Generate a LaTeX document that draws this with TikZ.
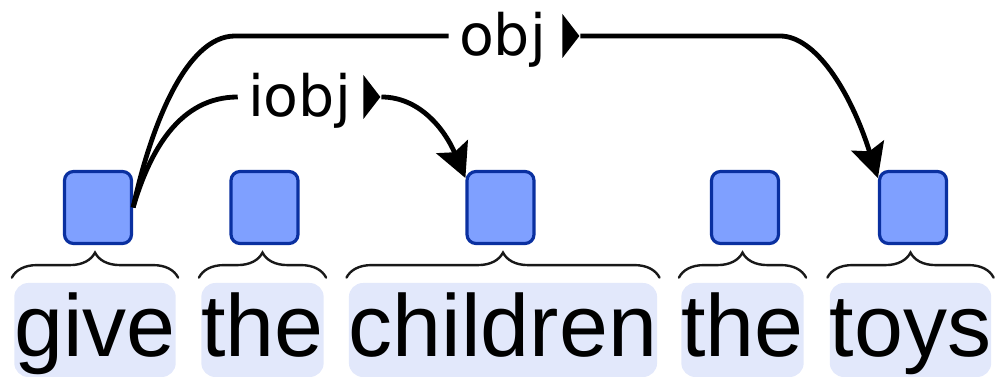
\documentclass[tikz,border=0pt]{standalone}
\usepackage{fontspec}
\setmainfont{Liberation Sans}
\newfontfamily\lblfont{DejaVu Sans}
\usetikzlibrary{arrows.meta,shapes.geometric,decorations.pathreplacing}
\definecolor{tokfill}{HTML}{7FA0FF}
\definecolor{tokline}{HTML}{0A30A0}
\definecolor{wordbg}{HTML}{E2E8FB}
\begin{document}
\begin{tikzpicture}[x=0.5pt,y=-0.5pt,
  tok/.style={rectangle, rounded corners=4.5pt, fill=tokfill, draw=tokline, line width=1.6pt, minimum width=33.5pt, minimum height=36pt, inner sep=0pt},
  word/.style={fill=wordbg, rounded corners=7pt, inner xsep=0pt, inner ysep=0pt, text height=37pt, text depth=10pt, font=\fontsize{44}{44}\selectfont, anchor=base},
  lbl/.style={font=\lblfont\fontsize{28.5}{28.5}\selectfont, text height=20pt, text depth=0pt, inner xsep=5pt, inner ysep=0pt},
  dirmark/.style={isosceles triangle, isosceles triangle stretches, fill=black, minimum height=8.5pt, minimum width=22pt, inner sep=0pt, anchor=west},
  dep/.style={line width=2.4pt},
  wordbrace/.style={decorate, decoration={brace, amplitude=12.5pt}, line width=1.2pt, draw=black!90, line cap=round}]
\useasboundingbox (0,0) rectangle (1005,383);
\node[word] (w1) at (95,357) {give};
\node[word] (w2) at (262.5,357) {the};
\node[word] (w3) at (503,357) {children};
\node[word] (w4) at (742.5,357) {the};
\node[word] (w5) at (910.5,357) {toys};
\foreach \i in {1,...,5}
  \draw[wordbrace] ([xshift=-1pt,yshift=2.5pt]w\i.north west) -- ([xshift=1pt,yshift=2.5pt]w\i.north east);
\node[tok] (tok1) at (98,207.5) {};
\node[tok] (tok2) at (264.5,207.5) {};
\node[tok] (tok3) at (500.5,207.5) {};
\node[tok] (tok4) at (745,207.5) {};
\node[tok] (tok5) at (913,207.5) {};
\node[lbl] (objlbl) at (502.5,36) {obj};
\node[dirmark] (objdir) at (562,36) {};
\node[lbl] (iobjlbl) at (299.5,97) {iobj};
\node[dirmark] (iobjdir) at (363,97) {};
\draw[dep] (tok1.east) .. controls (150,130) and (185,36) .. (235,36) -- (objlbl.west);
\draw[dep,-{Stealth[length=17pt,width=17pt,inset=3pt]}] (objdir.east) -- (780,36) .. controls (815,36) and (850,90) .. (tok5.140);
\draw[dep] (tok1.east) .. controls (150,150) and (180,97) .. (iobjlbl.west);
\draw[dep,-{Stealth[length=17pt,width=17pt,inset=3pt]}] (iobjdir.east) .. controls (420,97) and (445,130) .. (tok3.140);
\end{tikzpicture}
\end{document}
